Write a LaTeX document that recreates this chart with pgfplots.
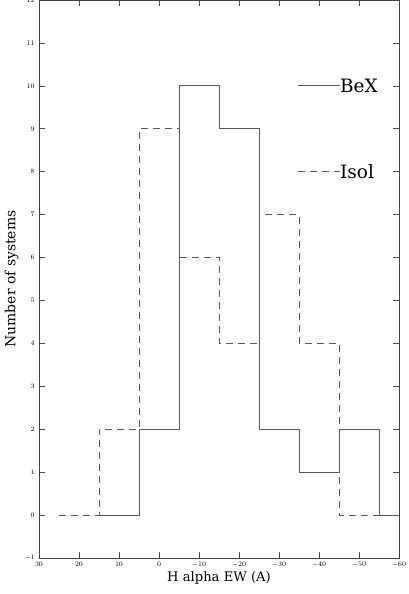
\documentclass[border=0pt]{standalone}
\usepackage{fontspec}
\setmainfont{DejaVu Serif}
\usepackage{pgfplots}
\pgfplotsset{compat=1.18}
\usetikzlibrary{calc}

\begin{document}
\begin{tikzpicture}
\begin{axis}[
  name=ax,
  scale only axis,
  width=360bp, height=558bp,
  x dir=reverse,
  xmin=-60, xmax=30,
  ymin=-1, ymax=12,
  xtick={30,20,...,-60},
  ytick={-1,0,...,12},
  tick align=inside,
  major tick length=6bp,
  axis line style={draw=black!75, line width=0.8bp},
  tick style={draw=black!70, line width=0.6bp},
  ticklabel style={font=\fontsize{7.5}{8}\selectfont},
  xticklabel style={yshift=-0.5bp},
  yticklabel style={xshift=-1bp},
  xlabel={H alpha EW (A)},
  ylabel={Number of systems},
  xlabel style={font=\fontsize{13.2}{15}\selectfont, yshift=3bp},
  ylabel style={font=\fontsize{14}{16}\selectfont, yshift=-1bp},
  every axis plot/.append style={line width=0.8bp, draw=black!65},
]
% Isol (dashed)
\addplot[const plot, dash pattern=on 7bp off 5bp] coordinates {
  (25,0) (15,2) (5,9) (-5,6) (-15,4) (-25,7) (-35,4) (-45,0) (-55,0)
};
% BeX (solid)
\addplot[const plot] coordinates {
  (15,0) (5,2) (-5,10) (-15,9) (-25,2) (-35,1) (-45,2) (-55,0) (-60,0)
};
% legend
\addplot[solid] coordinates {(-34.75,10) (-45.25,10)};
\addplot[dash pattern=on 7bp off 5bp] coordinates {(-34.75,8) (-45.25,8)};
\node[anchor=west, inner sep=0pt, font=\fontsize{18.5}{20}\selectfont] at (axis cs:-45.25,10) {BeX};
\node[anchor=west, inner sep=0pt, font=\fontsize{18.5}{20}\selectfont] at (axis cs:-45.25,8) {Isol};
\end{axis}
\pgfresetboundingbox
\path ($(ax.south west)+(-39bp,-36bp)$) rectangle ($(ax.north east)+(10bp,0bp)$);
\end{tikzpicture}
\end{document}
